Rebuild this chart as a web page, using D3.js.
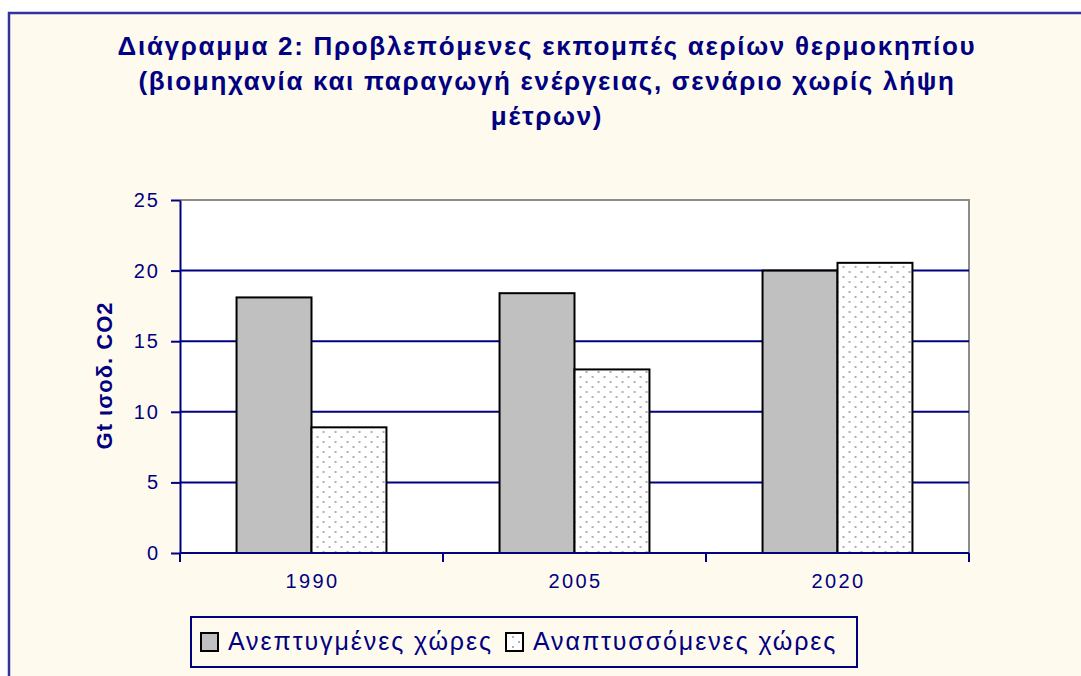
<!DOCTYPE html>
<html>
<head>
<meta charset="utf-8">
<script src="https://cdn.jsdelivr.net/npm/d3@7"></script>
<style>
  body { margin: 0; background: #ffffff; }
  svg { display: block; }
</style>
</head>
<body>
<div id="chart"></div>
<script>
// data
var years = ["1990", "2005", "2020"];
var seriesNames = ["Ανεπτυγμένες χώρες", "Αναπτυσσόμενες χώρες"];
var developed = [18.1, 18.4, 20.0];
var developing = [8.9, 13.0, 20.55];
var yTicks = [0, 5, 10, 15, 20, 25];
var titleLines = [
    "Διάγραμμα 2: Προβλεπόμενες εκπομπές αερίων θερμοκηπίου",
    "(βιομηχανία και παραγωγή ενέργειας, σενάριο χωρίς λήψη",
    "μέτρων)"
];
var yLabel = "Gt ισοδ. CO2";

function main(){
    var canvasWidth = 1081;
    var canvasHeight = 676;
    var navy = "#000080";
    var font = "'Liberation Sans', Arial, sans-serif";

    var svg = d3.select("#chart").append("svg")
        .attr("width", canvasWidth)
        .attr("height", canvasHeight);

    // dotted fill for the second series (staggered dots)
    var defs = svg.append("defs");
    var pat = defs.append("pattern")
        .attr("id", "dots")
        .attr("patternUnits", "userSpaceOnUse")
        .attr("width", 12)
        .attr("height", 10);
    pat.append("rect").attr("width", 12).attr("height", 10).attr("fill", "#ffffff");
    pat.selectAll("circle")
        .data([[3, 2], [9, 7]])
        .enter().append("circle")
        .attr("cx", function(d){ return d[0]; })
        .attr("cy", function(d){ return d[1]; })
        .attr("r", 0.9)
        .attr("fill", "#8a8a8a");

    // outer chart frame
    svg.append("rect")
        .attr("x", 9)
        .attr("y", 13)
        .attr("width", canvasWidth + 20)
        .attr("height", canvasHeight + 20)
        .attr("fill", "#fffaee")
        .attr("stroke", "#3333a0")
        .attr("stroke-width", 2.5);

    // title
    var title = svg.append("text")
        .attr("text-anchor", "middle")
        .attr("font-family", font)
        .attr("font-weight", "bold")
        .attr("font-size", "26px")
        .attr("letter-spacing", "1.7px")
        .attr("fill", navy);
    title.selectAll("tspan")
        .data(titleLines)
        .enter().append("tspan")
        .attr("x", 547)
        .attr("y", function(d, i){ return 55 + i * 35; })
        .text(function(d){ return d; });

    var left = 180, right = 969, top = 200, bottom = 553;

    var xScale = d3.scaleBand()
        .domain(years)
        .range([left, right])
        .paddingInner(0.43)
        .paddingOuter(0.215);
    var x1 = d3.scaleBand()
        .domain([0, 1])
        .range([0, xScale.bandwidth()]);
    var yScale = d3.scaleLinear().domain([0, 25]).range([bottom, top]);
    var color = ["#c0c0c0", "url(#dots)"];

    // plot area
    svg.append("rect")
        .attr("x", left)
        .attr("y", top)
        .attr("width", right - left)
        .attr("height", bottom - top)
        .attr("fill", "#ffffff");
    svg.append("path")
        .attr("d", "M" + left + "," + top + "H" + right + "V" + bottom)
        .attr("fill", "none")
        .attr("stroke", "#8c8c8c")
        .attr("stroke-width", 2);

    // gridlines
    svg.append("g").selectAll("line")
        .data(yTicks.filter(function(d){ return d > 0 && d < 25; }))
        .enter().append("line")
        .attr("x1", left).attr("x2", right)
        .attr("y1", function(d){ return yScale(d); })
        .attr("y2", function(d){ return yScale(d); })
        .attr("stroke", navy)
        .attr("stroke-width", 2);

    // bars
    var rows = years.map(function(y, i){ return [developed[i], developing[i]]; });
    var groups = svg.append("g").selectAll("g")
        .data(rows)
        .enter().append("g")
        .attr("transform", function(d, i){ return "translate(" + xScale(years[i]) + ",0)"; });
    groups.selectAll("rect")
        .data(function(d){ return d; })
        .enter().append("rect")
        .attr("x", function(d, j){ return x1(j); })
        .attr("y", function(d){ return yScale(d); })
        .attr("width", x1.bandwidth())
        .attr("height", function(d){ return bottom - yScale(d); })
        .attr("fill", function(d, j){ return color[j]; })
        .attr("stroke", "#000000")
        .attr("stroke-width", 2);

    // Y axis
    var yAxis = svg.append("g")
        .attr("transform", "translate(" + left + ",0)")
        .call(d3.axisLeft(yScale).tickValues(yTicks).tickSize(9).tickSizeOuter(0).tickPadding(13));
    yAxis.select(".domain").attr("stroke", navy).attr("stroke-width", 2);
    yAxis.selectAll(".tick line").attr("stroke", navy).attr("stroke-width", 2);
    yAxis.selectAll("text")
        .attr("fill", navy)
        .attr("font-family", font)
        .attr("font-size", "20px")
        .attr("letter-spacing", "2px")
        .attr("dx", "2px");

    // X axis: labels centered, ticks on the category boundaries
    var xAxis = svg.append("g")
        .attr("transform", "translate(0," + bottom + ")")
        .call(d3.axisBottom(xScale).tickSize(0).tickPadding(21).tickSizeOuter(0));
    xAxis.select(".domain").remove();
    xAxis.selectAll("text")
        .attr("fill", navy)
        .attr("font-family", font)
        .attr("font-size", "20px")
        .attr("letter-spacing", "2.4px")
        .attr("dx", "1px");
    var bounds = d3.range(years.length + 1).map(function(i){ return left + i * xScale.step(); });
    xAxis.selectAll(".bound")
        .data(bounds)
        .enter().append("line")
        .attr("class", "bound")
        .attr("x1", function(d){ return d; }).attr("x2", function(d){ return d; })
        .attr("y1", 0).attr("y2", 9)
        .attr("stroke", navy).attr("stroke-width", 2);
    xAxis.append("line")
        .attr("x1", left).attr("x2", right)
        .attr("stroke", navy).attr("stroke-width", 2);

    // Y axis title
    svg.append("text")
        .attr("transform", "translate(112," + ((top + bottom) / 2 - 1) + ") rotate(-90)")
        .attr("text-anchor", "middle")
        .attr("font-family", font)
        .attr("font-weight", "bold")
        .attr("font-size", "22px")
        .attr("letter-spacing", "1px")
        .attr("fill", navy)
        .text(yLabel);

    // legend
    var legend = svg.append("g");
    legend.append("rect")
        .attr("x", 191).attr("y", 617)
        .attr("width", 666).attr("height", 50)
        .attr("fill", "#fffaee")
        .attr("stroke", navy)
        .attr("stroke-width", 2);
    var itemX = [201, 506];
    seriesNames.forEach(function(name, i){
        legend.append("rect")
            .attr("x", itemX[i]).attr("y", 633)
            .attr("width", 17).attr("height", 18)
            .attr("fill", i === 0 ? color[0] : "#ffffff")
            .attr("stroke", "#000000")
            .attr("stroke-width", 2);
        legend.append("text")
            .attr("x", itemX[i] + 27)
            .attr("y", 650)
            .attr("font-family", font)
            .attr("font-size", "25px")
            .attr("letter-spacing", "1.9px")
            .attr("fill", navy)
            .text(name);
    });
    // a couple of dots inside the second legend swatch
    legend.append("rect")
        .attr("x", itemX[1] + 2).attr("y", 635)
        .attr("width", 13).attr("height", 14)
        .attr("fill", "url(#dots)");
}

main()
</script>
</body>
</html>
